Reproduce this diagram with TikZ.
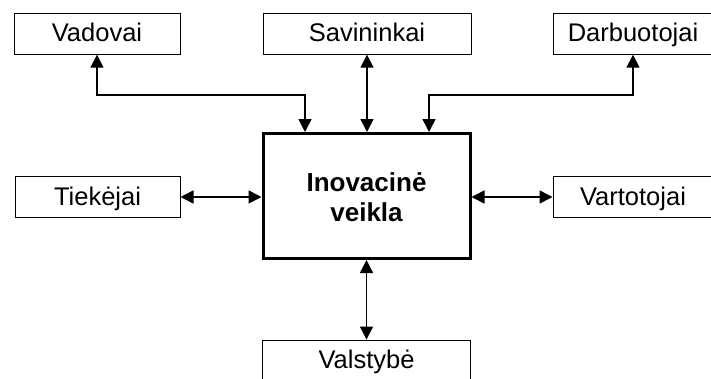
\documentclass[tikz,border=0pt]{standalone}
\usepackage{fontspec}
\setmainfont{Liberation Sans}
\usetikzlibrary{arrows.meta}
\pgfdeclarelayer{bg}
\pgfsetlayers{bg,main}
\tikzset{
    every node/.style={rectangle, inner sep=0mm, draw, line width=1pt, minimum height=41pt, text height=18pt, text depth=2pt, font=\fontsize{25.5}{30}\selectfont}
}
\tikzset{arr/.style={line width=1.6pt, {Triangle[length=13pt,width=13pt]}-{Triangle[length=13pt,width=13pt]}}}

\begin{document}
\begin{tikzpicture}[x=1pt, y=-1pt]
        \useasboundingbox (0,0) rectangle (711,378);
        \node (v0) [minimum width=166pt] at (97, 33.7) {Vadovai};
        \node (v1) [minimum width=208pt] at (367, 33.7) {Savininkai};
        \node (v2) [minimum width=160pt] at (633, 33.7) {Darbuotojai};
        \node (v3) [minimum width=165pt, minimum height=40.5pt] at (97.5, 197) {Tiekėjai};
        \node (v4) [minimum width=160pt, minimum height=40.5pt] at (633, 197) {Vartotojai};
        \node (v5) [minimum width=208pt] at (366.5, 360.5) {Valstybė};
        \node (v6) [minimum width=207pt, minimum height=125pt, line width=3pt, align=center, text height=51.4pt, text depth=0pt, font=\fontsize{26}{30}\selectfont\bfseries] at (366.5, 196) {Inovacinė\\veikla};
        \coordinate (p0) at (305, 95);
        \coordinate (p2) at (429, 95);
        \begin{pgfonlayer}{bg}
                \draw[arr] (v0.south) |- (p0) -- (p0 |- v6.north);
                \draw[arr] (v2.south) |- (p2) -- (p2 |- v6.north);
                \draw (v1.south) edge [arr] (v1.south |- v6.north);
                \draw (v3.east) edge [arr] (v3.east -| v6.west);
                \draw (v4.west) edge [arr] (v4.west -| v6.east);
                \draw (v5.north) edge [arr] (v5.north |- v6.south);
        \end{pgfonlayer}
\end{tikzpicture}
\end{document}
